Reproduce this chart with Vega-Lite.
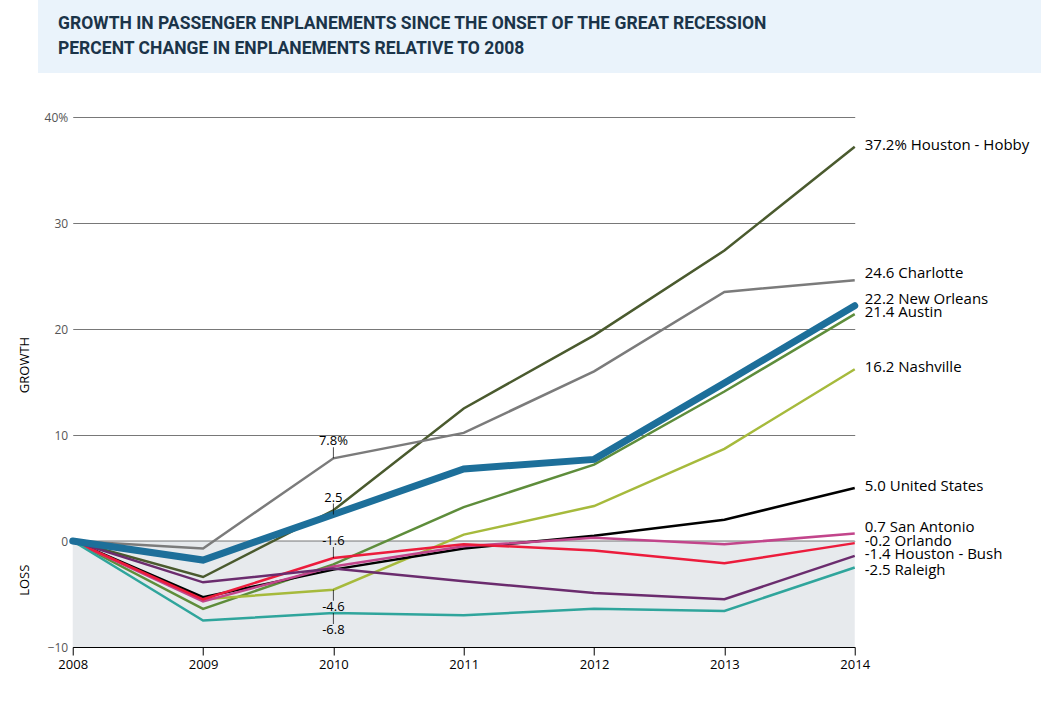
{
  "$schema": "https://vega.github.io/schema/vega-lite/v6.json",
  "background": "white",
  "padding": {"left": 18, "top": 0, "right": 0, "bottom": 12},
  "spacing": 38,
  "center": true,
  "config": {"view": {"stroke": null}, "font": "Open Sans"},
  "datasets": {
    "series": [
      {"city": "Houston - Hobby", "year": 2008, "value": 0}, {"city": "Houston - Hobby", "year": 2009, "value": -3.4}, {"city": "Houston - Hobby", "year": 2010, "value": 2.9}, {"city": "Houston - Hobby", "year": 2011, "value": 12.5}, {"city": "Houston - Hobby", "year": 2012, "value": 19.4}, {"city": "Houston - Hobby", "year": 2013, "value": 27.4}, {"city": "Houston - Hobby", "year": 2014, "value": 37.2},
      {"city": "Charlotte", "year": 2008, "value": 0}, {"city": "Charlotte", "year": 2009, "value": -0.7}, {"city": "Charlotte", "year": 2010, "value": 7.8}, {"city": "Charlotte", "year": 2011, "value": 10.2}, {"city": "Charlotte", "year": 2012, "value": 16.0}, {"city": "Charlotte", "year": 2013, "value": 23.5}, {"city": "Charlotte", "year": 2014, "value": 24.6},
      {"city": "New Orleans", "year": 2008, "value": 0}, {"city": "New Orleans", "year": 2009, "value": -1.8}, {"city": "New Orleans", "year": 2010, "value": 2.5}, {"city": "New Orleans", "year": 2011, "value": 6.8}, {"city": "New Orleans", "year": 2012, "value": 7.7}, {"city": "New Orleans", "year": 2013, "value": 14.9}, {"city": "New Orleans", "year": 2014, "value": 22.2},
      {"city": "Austin", "year": 2008, "value": 0}, {"city": "Austin", "year": 2009, "value": -6.4}, {"city": "Austin", "year": 2010, "value": -2.2}, {"city": "Austin", "year": 2011, "value": 3.2}, {"city": "Austin", "year": 2012, "value": 7.2}, {"city": "Austin", "year": 2013, "value": 14.1}, {"city": "Austin", "year": 2014, "value": 21.4},
      {"city": "Nashville", "year": 2008, "value": 0}, {"city": "Nashville", "year": 2009, "value": -5.5}, {"city": "Nashville", "year": 2010, "value": -4.6}, {"city": "Nashville", "year": 2011, "value": 0.6}, {"city": "Nashville", "year": 2012, "value": 3.3}, {"city": "Nashville", "year": 2013, "value": 8.7}, {"city": "Nashville", "year": 2014, "value": 16.2},
      {"city": "United States", "year": 2008, "value": 0}, {"city": "United States", "year": 2009, "value": -5.3}, {"city": "United States", "year": 2010, "value": -2.7}, {"city": "United States", "year": 2011, "value": -0.7}, {"city": "United States", "year": 2012, "value": 0.5}, {"city": "United States", "year": 2013, "value": 2.0}, {"city": "United States", "year": 2014, "value": 5.0},
      {"city": "San Antonio", "year": 2008, "value": 0}, {"city": "San Antonio", "year": 2009, "value": -5.7}, {"city": "San Antonio", "year": 2010, "value": -2.4}, {"city": "San Antonio", "year": 2011, "value": -0.5}, {"city": "San Antonio", "year": 2012, "value": 0.3}, {"city": "San Antonio", "year": 2013, "value": -0.3}, {"city": "San Antonio", "year": 2014, "value": 0.7},
      {"city": "Orlando", "year": 2008, "value": 0}, {"city": "Orlando", "year": 2009, "value": -5.5}, {"city": "Orlando", "year": 2010, "value": -1.6}, {"city": "Orlando", "year": 2011, "value": -0.3}, {"city": "Orlando", "year": 2012, "value": -0.9}, {"city": "Orlando", "year": 2013, "value": -2.1}, {"city": "Orlando", "year": 2014, "value": -0.2},
      {"city": "Houston - Bush", "year": 2008, "value": 0}, {"city": "Houston - Bush", "year": 2009, "value": -3.9}, {"city": "Houston - Bush", "year": 2010, "value": -2.6}, {"city": "Houston - Bush", "year": 2011, "value": -3.8}, {"city": "Houston - Bush", "year": 2012, "value": -4.9}, {"city": "Houston - Bush", "year": 2013, "value": -5.5}, {"city": "Houston - Bush", "year": 2014, "value": -1.4},
      {"city": "Raleigh", "year": 2008, "value": 0}, {"city": "Raleigh", "year": 2009, "value": -7.5}, {"city": "Raleigh", "year": 2010, "value": -6.8}, {"city": "Raleigh", "year": 2011, "value": -7.0}, {"city": "Raleigh", "year": 2012, "value": -6.4}, {"city": "Raleigh", "year": 2013, "value": -6.6}, {"city": "Raleigh", "year": 2014, "value": -2.5}
    ],
    "ends": [
      {"city": "Houston - Hobby", "year": 2014, "value": 37.2, "label": "37.2% Houston - Hobby"},
      {"city": "Charlotte", "year": 2014, "value": 24.6, "label": "24.6 Charlotte"},
      {"city": "New Orleans", "year": 2014, "value": 22.2, "label": "22.2 New Orleans"},
      {"city": "Austin", "year": 2014, "value": 21.4, "label": "21.4 Austin"},
      {"city": "Nashville", "year": 2014, "value": 16.2, "label": "16.2 Nashville"},
      {"city": "United States", "year": 2014, "value": 5.0, "label": "5.0 United States"},
      {"city": "San Antonio", "year": 2014, "value": 0.7, "label": "0.7 San Antonio"},
      {"city": "Orlando", "year": 2014, "value": -0.2, "label": "-0.2 Orlando"},
      {"city": "Houston - Bush", "year": 2014, "value": -1.4, "label": "-1.4 Houston - Bush"},
      {"city": "Raleigh", "year": 2014, "value": -2.5, "label": "-2.5 Raleigh"}
    ],
    "notes": [
      {"year": 2010, "value": 7.8, "label": "7.8%"},
      {"year": 2010, "value": 2.5, "label": "2.5"},
      {"year": 2010, "value": -1.6, "label": "-1.6"},
      {"year": 2010, "value": -4.6, "label": "-4.6"},
      {"year": 2010, "value": -6.8, "label": "-6.8"}
    ],
    "sides": [
      {"label": "GROWTH", "year": 2008, "value": 16.6},
      {"label": "LOSS", "year": 2008, "value": -3.7}
    ],
    "zones": [
      {"zone": "loss", "start": 2008, "end": 2014, "top": 0, "bottom": -10}
    ],
    "titles": [
      {"order": 1, "text": "GROWTH IN PASSENGER ENPLANEMENTS SINCE THE ONSET OF THE GREAT RECESSION"},
      {"order": 2, "text": "PERCENT CHANGE  IN ENPLANEMENTS RELATIVE TO 2008"}
    ]
  },
  "vconcat": [
    {
      "width": 1026,
      "height": 73,
      "view": {"fill": "#eaf3fb", "stroke": null},
      "data": {"name": "titles"},
      "mark": {"type": "text", "align": "left", "baseline": "middle", "dx": 20, "font": "Roboto", "fontSize": 17.5, "fontWeight": "bold", "color": "#1b3449"},
      "encoding": {
        "x": {"datum": 0, "type": "quantitative", "scale": {"domain": [0, 1]}, "axis": null},
        "y": {"field": "order", "type": "ordinal", "scale": {"type": "point", "padding": 1}, "axis": null},
        "text": {"field": "text"}
      }
    },
    {
      "width": 782,
      "height": 530,
      "view": {"stroke": null},
      "layer": [
        {
          "data": {"name": "zones"},
          "mark": {"type": "rect", "color": "#e7eaed"},
          "encoding": {
            "x": {"field": "start", "type": "quantitative", "scale": {"domain": [2008, 2014], "nice": false, "zero": false},
              "axis": {"values": [2008, 2009, 2010, 2011, 2012, 2013, 2014], "format": "d", "title": null, "grid": false, "domainColor": "#000", "tickColor": "#000", "tickSize": 8, "labelColor": "#000", "labelFontSize": 13, "labelPadding": 3, "labelFlush": false}},
            "x2": {"field": "end"},
            "y": {"field": "top", "type": "quantitative", "scale": {"domain": [-10, 40], "nice": false, "zero": false},
              "axis": {"values": [-10, 0, 10, 20, 30, 40], "labelExpr": "datum.value == 40 ? '40%' : datum.label", "title": null, "grid": true, "gridColor": "#555", "gridWidth": 0.8, "domain": false, "ticks": false, "labelColor": "#555", "labelFontSize": 12, "labelPadding": 5}},
            "y2": {"field": "bottom"}
          }
        },
        {
          "data": {"name": "zones"},
          "mark": {"type": "rule", "color": "#555", "strokeWidth": 0.8},
          "encoding": {
            "x": {"field": "start", "type": "quantitative"},
            "x2": {"field": "end"},
            "y": {"field": "top", "type": "quantitative"}
          }
        },
        {
          "data": {"name": "sides"},
          "mark": {"type": "text", "angle": 270, "align": "center", "baseline": "middle", "dy": -48, "fontSize": 13, "color": "#000"},
          "encoding": {
            "x": {"field": "year", "type": "quantitative"},
            "y": {"field": "value", "type": "quantitative"},
            "text": {"field": "label"}
          }
        },
        {
          "data": {"name": "series"},
          "transform": [{"filter": "datum.city != 'New Orleans'"}],
          "mark": {"type": "line", "strokeWidth": 2.5},
          "encoding": {
            "x": {"field": "year", "type": "quantitative"},
            "y": {"field": "value", "type": "quantitative"},
            "color": {"field": "city", "type": "nominal", "legend": null,
              "scale": {"domain": ["Houston - Hobby", "Charlotte", "New Orleans", "Austin", "Nashville", "United States", "San Antonio", "Orlando", "Houston - Bush", "Raleigh"],
                "range": ["#4a5a2e", "#7b7b7b", "#1d6f9a", "#5e8d3b", "#a6ba3c", "#000000", "#c2458b", "#ec1c3c", "#6b2c6e", "#2fa59c"]}}
          }
        },
        {
          "data": {"name": "series"},
          "transform": [{"filter": "datum.city == 'New Orleans'"}],
          "mark": {"type": "line", "strokeWidth": 7, "color": "#1d6f9a", "strokeCap": "round"},
          "encoding": {
            "x": {"field": "year", "type": "quantitative"},
            "y": {"field": "value", "type": "quantitative"}
          }
        },
        {
          "data": {"name": "notes"},
          "transform": [{"filter": "datum.value > -3"}],
          "encoding": {
            "x": {"field": "year", "type": "quantitative"},
            "y": {"field": "value", "type": "quantitative"}
          },
          "layer": [
            {"mark": {"type": "tick", "orient": "vertical", "size": 11, "thickness": 1, "color": "#000", "yOffset": -5.5}},
            {"mark": {"type": "text", "baseline": "bottom", "dy": -10, "fontSize": 13, "color": "#000"}, "encoding": {"text": {"field": "label"}}}
          ]
        },
        {
          "data": {"name": "notes"},
          "transform": [{"filter": "datum.value <= -3"}],
          "encoding": {
            "x": {"field": "year", "type": "quantitative"},
            "y": {"field": "value", "type": "quantitative"}
          },
          "layer": [
            {"mark": {"type": "tick", "orient": "vertical", "size": 11, "thickness": 1, "color": "#000", "yOffset": 5.5}},
            {"mark": {"type": "text", "baseline": "top", "dy": 11, "fontSize": 13, "color": "#000"}, "encoding": {"text": {"field": "label"}}}
          ]
        },
        {
          "data": {"name": "ends"},
          "transform": [{"filter": "datum.city == 'Charlotte' || datum.city == 'New Orleans' || datum.city == 'San Antonio'"}],
          "mark": {"type": "text", "align": "left", "baseline": "middle", "dx": 10, "dy": -7, "fontSize": 15, "color": "#000"},
          "encoding": {
            "x": {"field": "year", "type": "quantitative"},
            "y": {"field": "value", "type": "quantitative"},
            "text": {"field": "label"}
          }
        },
        {
          "data": {"name": "ends"},
          "transform": [{"filter": "datum.city == 'Raleigh'"}],
          "mark": {"type": "text", "align": "left", "baseline": "middle", "dx": 10, "dy": 2, "fontSize": 15, "color": "#000"},
          "encoding": {
            "x": {"field": "year", "type": "quantitative"},
            "y": {"field": "value", "type": "quantitative"},
            "text": {"field": "label"}
          }
        },
        {
          "data": {"name": "ends"},
          "transform": [{"filter": "datum.city != 'Charlotte' && datum.city != 'New Orleans' && datum.city != 'San Antonio' && datum.city != 'Raleigh'"}],
          "mark": {"type": "text", "align": "left", "baseline": "middle", "dx": 10, "dy": -2, "fontSize": 15, "color": "#000"},
          "encoding": {
            "x": {"field": "year", "type": "quantitative"},
            "y": {"field": "value", "type": "quantitative"},
            "text": {"field": "label"}
          }
        }
      ]
    }
  ]
}
